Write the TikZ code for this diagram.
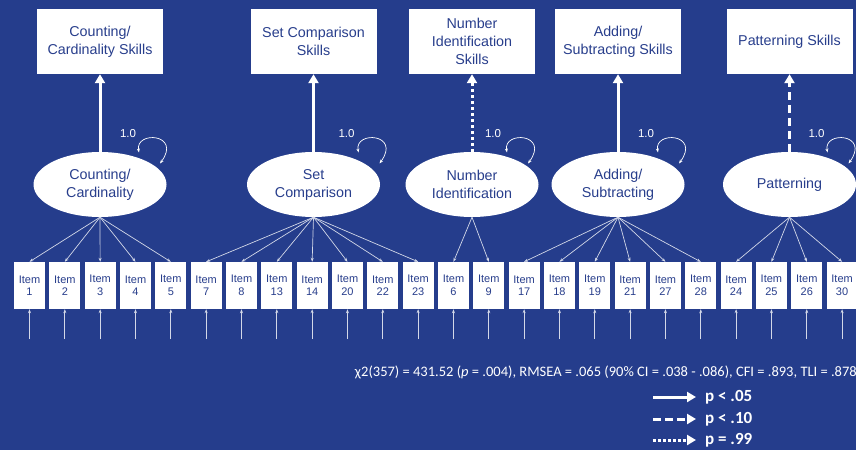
\documentclass[tikz,border=0pt]{standalone}
\usepackage{fontspec}
\setmainfont{Liberation Sans}
\newfontfamily\carl{Carlito}
\usetikzlibrary{arrows.meta,shapes.geometric,calc}
\definecolor{bg}{RGB}{37,61,140}
\definecolor{tx}{RGB}{40,62,140}
\begin{document}
\begin{tikzpicture}[x=1pt,y=-1pt,
 skill/.style={fill=white,minimum width=126pt,minimum height=65pt,text=tx,font=\fontsize{14.3}{18}\selectfont,align=center,inner sep=0pt},
 factor/.style={ellipse,fill=white,minimum width=133pt,minimum height=65pt,text=tx,font=\fontsize{14.3}{18}\selectfont,align=center,inner sep=0pt},
 itembox/.style={fill=white,minimum width=31pt,minimum height=47pt,text=tx,font=\fontsize{11}{12.5}\selectfont,align=center,inner sep=0pt},
 mainarr/.style={white,line width=3pt,-{Triangle[length=9pt,width=10pt]}},
 dottedarr/.style={mainarr,dash pattern=on 3pt off 3pt},
 dashedarr/.style={mainarr,dash pattern=on 8pt off 5pt},
 loadarr/.style={white!80!bg,line width=0.7pt,-{Stealth[length=4pt,width=3pt]}},
 looparr/.style={white,line width=0.7pt,{Stealth[length=4pt,width=3pt]}-{Stealth[length=4pt,width=3pt]}},
 loadlabel/.style={text=white,font=\fontsize{11.5}{12}\selectfont,inner sep=0pt},
 legendtext/.style={text=white,font=\carl\bfseries\fontsize{17}{20}\selectfont,anchor=west,inner sep=0pt}]
\useasboundingbox[fill=bg] (0,0) rectangle (856,450);

% skill boxes
\node[skill] (b1) at (100,41.5) {Counting/\\Cardinality Skills};
\node[skill] (b2) at (313.5,41.5) {Set Comparison\\Skills};
\node[skill] (b3) at (472,41.5) {Number\\Identification\\Skills};
\node[skill] (b4) at (618,41.5) {Adding/\\Subtracting Skills};
\node[skill] (b5) at (789.5,41.5) {Patterning Skills};

% factors
\node[factor] (e1) at (100,184.5) {Counting/\\Cardinality};
\node[factor] (e2) at (313.5,184.5) {Set\\Comparison};
\node[factor] (e3) at (472,184.5) {Number\\Identification};
\node[factor] (e4) at (618,184.5) {Adding/\\Subtracting};
\node[factor] (e5) at (789.5,184.5) {Patterning};

% structural arrows
\draw[mainarr] (e1.north) -- (b1.south);
\draw[mainarr] (e2.north) -- (b2.south);
\draw[dottedarr] (e3.north) -- (b3.south);
\draw[mainarr] (e4.north) -- (b4.south);
\draw[dashedarr] (e5.north) -- (b5.south);

% variance loops
\foreach \e/\lo/\la in {e1/39/28, e2/45/33, e3/35/21, e4/40/28, e5/38/27}{
  \draw[looparr] ($(\e.center)+(\lo,-32)$) .. controls +(-4,-22) and +(22,-30) .. ($(\e.center)+(\lo+21,-21)$);
  \node[loadlabel] (v\e) at ($(\e.center)+(\la,-51)$) {1.0};
}

% items
\foreach \k/\n in {1/1,2/2,3/3,4/4,5/5,6/7,7/8,8/13,9/14,10/20,11/22,12/23,13/6,14/9,15/17,16/18,17/19,18/21,19/27,20/28,21/24,22/25,23/26,24/30}{
  \pgfmathsetmacro\xx{29.5+35.33*(\k-1)}
  \node[itembox] (i\k) at (\xx,285.5) {Item\\\n};
  \coordinate (u\k) at (\xx,339);
  \draw[loadarr] (u\k) -- (i\k.south);
}

% loadings
\foreach \k in {1,...,5}{\draw[loadarr] (e1.south) -- (i\k.north);}
\foreach \k in {6,...,12}{\draw[loadarr] (e2.south) -- (i\k.north);}
\foreach \k in {13,14}{\draw[loadarr] (e3.south) -- (i\k.north);}
\foreach \k in {15,...,20}{\draw[loadarr] (e4.south) -- (i\k.north);}
\foreach \k in {21,...,24}{\draw[loadarr] (e5.south) -- (i\k.north);}

% fit line
\node[anchor=east,text=white,font=\carl\fontsize{14.5}{18}\selectfont,inner sep=0pt] (fit) at (857,372)
  {χ2(357) = 431.52 (\textit{p} = .004), RMSEA = .065 (90\% CI = .038 - .086), CFI = .893, TLI = .878};

% legend
\node[legendtext] (l1) at (705,397) {p < .05};
\node[legendtext] (l2) at (705,419) {p < .10};
\node[legendtext] (l3) at (705,440) {p = .99};
\coordinate (a1) at (653,397);
\coordinate (a2) at (653,419);
\coordinate (a3) at (653,440);
\draw[mainarr] (a1) -- ([xshift=-9pt]l1.west);
\draw[mainarr,dash pattern=on 8pt off 4pt] (a2) -- ([xshift=-9pt]l2.west);
\draw[mainarr,dash pattern=on 2.5pt off 2.5pt] (a3) -- ([xshift=-9pt]l3.west);
\end{tikzpicture}
\end{document}
